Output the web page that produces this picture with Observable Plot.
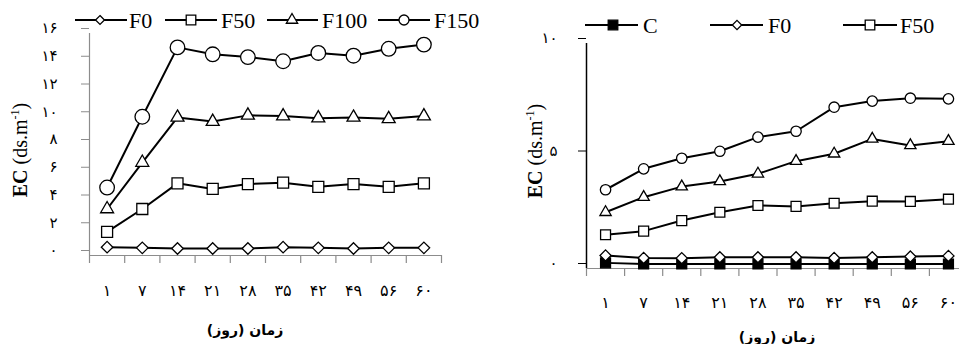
<!DOCTYPE html>
<html><head><meta charset="utf-8">
<script src="https://cdn.jsdelivr.net/npm/d3@7"></script>
<script src="https://cdn.jsdelivr.net/npm/@observablehq/plot@0.6"></script>
<style>
body{margin:0;background:#fff;}
#wrap{position:relative;width:959px;height:344px;overflow:hidden;background:#fff;font-family:"Liberation Serif","DejaVu Serif",serif;}
.panel{position:absolute;top:0;}
.ytitle{position:absolute;transform:translate(-50%,-50%) rotate(-90deg);white-space:nowrap;font-size:20px;color:#000;}
.ytitle sup{font-size:12px;}
.xtitle{position:absolute;transform:translate(-50%,-50%);white-space:nowrap;font-family:"DejaVu Sans",sans-serif;font-weight:bold;font-size:14px;direction:rtl;}
#legend{position:absolute;left:0;top:0;}
</style></head><body><div id="wrap"></div>
<script>
// ---- data ----
const days = [1, 7, 14, 21, 28, 35, 42, 49, 56, 60];
const leftTicksY = [0, 2, 4, 6, 8, 10, 12, 14, 16];
const rightTicksY = [0, 5, 10];
const xTitle = "زمان (روز)";

const leftF0   = [0.6, 0.55, 0.5, 0.5, 0.5, 0.6, 0.55, 0.5, 0.55, 0.55];
const leftF50  = [1.7, 3.35, 5.2, 4.8, 5.15, 5.25, 4.95, 5.15, 4.95, 5.2];
const leftF100 = [3.35, 6.7, 9.95, 9.65, 10.1, 10.05, 9.9, 9.95, 9.85, 10.05];
const leftF150 = [4.9, 10.0, 15.0, 14.5, 14.3, 14.0, 14.6, 14.4, 14.9, 15.2];

const rightC    = [0.25, 0.2, 0.2, 0.2, 0.2, 0.2, 0.2, 0.2, 0.2, 0.2];
const rightF0   = [0.58, 0.47, 0.46, 0.5, 0.5, 0.5, 0.47, 0.5, 0.53, 0.56];
const rightF50  = [1.5, 1.66, 2.13, 2.5, 2.8, 2.76, 2.9, 2.99, 2.98, 3.08];
const rightF100 = [2.5, 3.17, 3.64, 3.87, 4.21, 4.77, 5.1, 5.76, 5.47, 5.66];
const rightF150 = [3.5, 4.43, 4.9, 5.21, 5.84, 6.1, 7.17, 7.44, 7.57, 7.54];

const fa = d => String(d).replace(/\d/g, c => "۰۱۲۳۴۵۶۷۸۹"[+c]);

const wrap = document.getElementById("wrap");

function panel(opts) {
  const marks = [];
  marks.push(Plot.ruleY([0], {stroke: opts.xAxisColor, strokeWidth: 1.2}));
  marks.push(Plot.axisX({ticks: d3.range(0, 11), tickSize: 8, tickFormat: () => "", label: null, stroke: opts.xAxisColor, strokeWidth: 1.2}));
  marks.push(Plot.axisX({ticks: d3.range(10).map(i => i + 0.5), tickSize: 0, tickPadding: opts.xPad, label: null,
    tickFormat: d => fa(days[Math.floor(d)]), fill: "#000", fontSize: 16, fontFamily: "DejaVu Sans"}));
  marks.push(Plot.axisY({ticks: opts.yTicks, tickSize: 8, tickPadding: opts.yPad, tickFormat: fa, label: null,
    stroke: opts.yAxisColor, fill: "#000", dy: -5, fontSize: 15, fontFamily: "DejaVu Sans"}));
  marks.push(Plot.ruleX([0], {stroke: opts.yAxisColor, strokeWidth: opts.yAxisWidth}));
  for (const s of opts.series) {
    const rows = s.values.map((v, i) => ({x: i + 0.5, y: v}));
    marks.push(Plot.line(rows, {x: "x", y: "y", stroke: "#000", strokeWidth: 2}));
  }
  for (const s of opts.series) {
    const rows = s.values.map((v, i) => ({x: i + 0.5, y: v}));
    marks.push(Plot.dot(rows, {x: "x", y: "y", symbol: s.symbol, r: s.r, fill: s.fill, stroke: "#000", strokeWidth: 1.3}));
  }
  const chart = Plot.plot({
    width: opts.width, height: 344,
    marginLeft: opts.ml, marginRight: opts.mr, marginTop: opts.mt, marginBottom: opts.mb,
    x: {domain: [0, 10], label: null},
    y: {domain: opts.yDomain, label: null},
    style: {background: "transparent", maxWidth: "none", overflow: "visible"},
    marks
  });
  const div = document.createElement("div");
  div.className = "panel";
  div.style.left = opts.left + "px";
  div.style.width = opts.width + "px";
  div.appendChild(chart);
  wrap.appendChild(div);
}

panel({
  left: 0, width: 480, ml: 89, mr: 39, mt: 33, mb: 89,
  yDomain: [0, 16], yTicks: leftTicksY, yPad: 24, xPad: 29,
  xAxisColor: "#8c8c8c", yAxisColor: "#8c8c8c", yAxisWidth: 1.2,
  series: [
    {values: leftF0, symbol: "diamond2", r: 5.2, fill: "#fff"},
    {values: leftF50, symbol: "square", r: 6.2, fill: "#fff"},
    {values: leftF100, symbol: "triangle2", r: 6.2, fill: "#fff"},
    {values: leftF150, symbol: "circle", r: 7.3, fill: "#fff"}
  ]
});

panel({
  left: 480, width: 500, ml: 106, mr: 13, mt: 43, mb: 76,
  yDomain: [0, 10], yTicks: rightTicksY, yPad: 21, xPad: 28,
  xAxisColor: "#8c8c8c", yAxisColor: "#000", yAxisWidth: 1.5,
  series: [
    {values: rightC, symbol: "square", r: 5.6, fill: "#000"},
    {values: rightF0, symbol: "diamond2", r: 5, fill: "#fff"},
    {values: rightF50, symbol: "square", r: 5.6, fill: "#fff"},
    {values: rightF100, symbol: "triangle2", r: 5.4, fill: "#fff"},
    {values: rightF150, symbol: "circle", r: 5.2, fill: "#fff"}
  ]
});

// axis titles
function addDiv(cls, html, x, y) {
  const d = document.createElement("div");
  d.className = cls; d.innerHTML = html;
  d.style.left = x + "px"; d.style.top = y + "px";
  wrap.appendChild(d);
}
const yTitleHtml = "<b>EC</b> (ds.m<sup>-1</sup>)";
addDiv("ytitle", yTitleHtml, 20, 150);
addDiv("ytitle", yTitleHtml, 535, 151);
addDiv("xtitle", xTitle, 245, 330);
addDiv("xtitle", xTitle, 777, 337);

// legends
const symMap = {circle: d3.symbolCircle, square: d3.symbolSquare, diamond2: d3.symbolDiamond2, triangle2: d3.symbolTriangle2};
const svg = d3.select(wrap).append("svg").attr("id", "legend").attr("width", 959).attr("height", 344);
function legend(items, cy) {
  for (const it of items) {
    svg.append("line").attr("x1", it.x0).attr("x2", it.x1).attr("y1", cy).attr("y2", cy).attr("stroke", "#000").attr("stroke-width", 2);
    const size = Math.PI * it.r * it.r;
    svg.append("path").attr("d", d3.symbol(symMap[it.sym], size)()).attr("transform", `translate(${it.sx},${cy})`)
      .attr("fill", it.fill).attr("stroke", "#000").attr("stroke-width", 1.3);
    svg.append("text").attr("x", it.tx).attr("y", cy + 7.5).text(it.name)
      .attr("font-family", "Liberation Serif, serif").attr("font-size", 22).attr("fill", "#000");
  }
}
legend([
  {name: "F0", sym: "diamond2", r: 4, fill: "#fff", x0: 75, x1: 127, sx: 100, tx: 129},
  {name: "F50", sym: "square", r: 5.4, fill: "#fff", x0: 165, x1: 217, sx: 191, tx: 221},
  {name: "F100", sym: "triangle2", r: 5.4, fill: "#fff", x0: 267, x1: 318, sx: 292, tx: 322},
  {name: "F150", sym: "circle", r: 5, fill: "#fff", x0: 378, x1: 430, sx: 404, tx: 434}
], 20);
legend([
  {name: "C", sym: "square", r: 5.4, fill: "#000", x0: 585, x1: 638, sx: 613, tx: 643},
  {name: "F0", sym: "diamond2", r: 4.2, fill: "#fff", x0: 710, x1: 763, sx: 737, tx: 768},
  {name: "F50", sym: "square", r: 5.4, fill: "#fff", x0: 843, x1: 897, sx: 870, tx: 900}
], 25);
</script></body></html>
